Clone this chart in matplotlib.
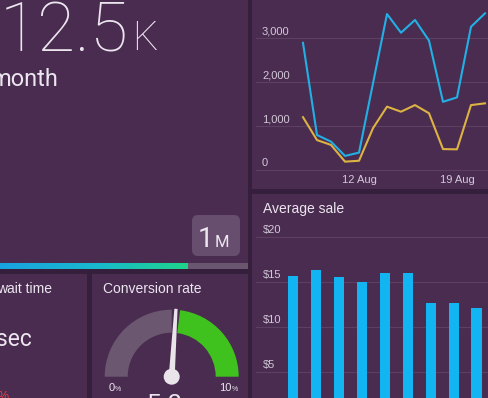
import matplotlib
matplotlib.use("Agg")
import matplotlib.pyplot as plt
import numpy as np
import matplotlib.transforms as mtransforms
from matplotlib.patches import Rectangle, FancyBboxPatch, Wedge, Polygon, Circle
from matplotlib.colors import LinearSegmentedColormap

# ---------------- data ----------------
days = [8, 9, 10, 11, 12, 13, 14, 15, 16, 17, 18, 19, 20, 21]
series_blue = [2890, 795, 645, 320, 395, 1970, 3545, 3120, 3410, 2940, 1550, 1650, 3255, 3560]
series_yellow = [1200, 680, 570, 190, 210, 950, 1440, 1325, 1475, 1290, 475, 470, 1475, 1515]
line_xticks = [12, 19]
line_xtick_labels = ["12 Aug", "19 Aug"]
line_yticks = [0, 1000, 2000, 3000]
line_ytick_labels = ["0", "1,000", "2,000", "3,000"]

bar_values = [15.6, 16.3, 15.5, 15.0, 16.0, 16.0, 12.6, 12.6, 12.1]
bar_yticks = [5, 10, 15, 20]
bar_ytick_labels = ["$5", "$10", "$15", "$20"]
bar_title = "Average sale"

headline_number = "12.5"
headline_unit = "K"
headline_caption = "month"
progress_fraction = 0.758
goal_number = "1"
goal_unit = "M"

wait_title = "wait time"
wait_unit = "sec"
wait_change = "3%"

conv_title = "Conversion rate"
conv_min, conv_max = 0, 10
conv_value = 5.2
conv_band_gray = (0, 5.0)
conv_band_green = (5.4, 10)

# ---------------- style ----------------
W, H = 488, 398
SEP = "#361f3d"
PANEL = "#4a2c51"
GRID = "#5b4061"
TXT = "#ece6ef"
TICK = "#d3c9d8"
BLUE = "#22b0e4"
YELLOW = "#dcb243"
BAR = "#12b5f1"
FONT = "Liberation Sans"

fig = plt.figure(figsize=(W / 100, H / 100), dpi=100)
fig.patch.set_facecolor(SEP)

bg = fig.add_axes([0, 0, 1, 1])
bg.set_zorder(0)
bg.axis("off")

def panel(x0, y0, x1, y1):
    bg.add_patch(Rectangle((x0, y0), x1 - x0, y1 - y0, facecolor=PANEL, edgecolor="none", zorder=1))

panel(0, 0, 248, 269)
panel(252, 0, 488, 189)
panel(252, 194, 488, 398)
panel(0, 274, 87, 398)
panel(92, 274, 248, 398)

# headline texts
bg.text(129, 51.7, headline_number, fontsize=50, color=TXT, family="Roboto", weight="light",
        ha="right", va="baseline", zorder=3)
bg.text(132, 50.5, headline_unit, fontsize=29, color=TXT, family="Roboto", weight="light",
        ha="left", va="baseline", zorder=3)
bg.text(58.5, 86, headline_caption, fontsize=17, color=TXT, family="Roboto",
        ha="right", va="baseline", zorder=3)

# goal badge
bg.add_patch(FancyBboxPatch((192, 215), 48, 41, boxstyle="round,pad=0,rounding_size=6",
                            facecolor="#684e6e", edgecolor="none", zorder=2))
bg.text(213, 247.3, goal_number, fontsize=20, color=TXT, family="Roboto",
        ha="right", va="baseline", zorder=3)
bg.text(215, 247.3, goal_unit, fontsize=12, color=TXT, family="Roboto",
        ha="left", va="baseline", zorder=3)

# progress bar
bar_x0, bar_x1, bar_y0, bar_y1 = 0, 248, 263, 269
bg.add_patch(Rectangle((bar_x0, bar_y0), bar_x1 - bar_x0, bar_y1 - bar_y0,
                       facecolor="#6a566f", edgecolor="none", zorder=2))
fill_end = bar_x0 + progress_fraction * (bar_x1 - bar_x0)
cmap = LinearSegmentedColormap.from_list("prog", ["#1aa3df", "#18b8d0", "#1fd58a"])
grad = np.linspace(0, 1, 256).reshape(1, -1)
bg.imshow(grad, extent=[bar_x0, fill_end, bar_y1, bar_y0], aspect="auto", cmap=cmap,
          origin="upper", zorder=3, interpolation="bilinear")

# wait time panel
bg.text(52, 293, wait_title, fontsize=10, color=TXT, family=FONT, ha="right", va="baseline", zorder=3)
bg.text(31.5, 345.5, wait_unit, fontsize=16.5, color=TXT, family="Roboto", ha="right", va="baseline", zorder=3)
bg.text(10, 391, wait_change, fontsize=9, color="#e8403e", family=FONT, ha="right", va="top", zorder=3)

# conversion gauge
bg.text(103, 293, conv_title, fontsize=10, color=TXT, family=FONT, ha="left", va="baseline", zorder=3)
cx, cy, r_out, r_in = 171.7, 376.7, 67, 44

def ang(v):
    # data angle (y axis inverted) for a value on the gauge
    return 180 + (v - conv_min) / (conv_max - conv_min) * 180

bg.add_patch(Wedge((cx, cy), r_out, ang(conv_band_gray[0]), ang(conv_band_gray[1]),
                   width=r_out - r_in, facecolor="#6b5870", edgecolor="none", zorder=2))
bg.add_patch(Wedge((cx, cy), r_out, ang(conv_band_green[0]), ang(conv_band_green[1]),
                   width=r_out - r_in, facecolor="#3fc21d", edgecolor="none", zorder=2))
a = np.deg2rad(ang(conv_value))
d = np.array([np.cos(a), np.sin(a)])
nrm = np.array([-d[1], d[0]])
L = 68
c = np.array([cx, cy])
needle = [c + nrm * 3, c + d * L + nrm * 1.6, c + d * L - nrm * 1.6, c - nrm * 3]
bg.add_patch(Polygon(needle, closed=True, facecolor="#e8e4ea", edgecolor="none", zorder=4))
bg.add_patch(Circle((cx, cy), 8, facecolor="#e8e4ea", edgecolor="none", zorder=4))
bg.text(114.5, 391, "0", fontsize=8, color=TXT, family=FONT, ha="right", va="baseline", zorder=3)
bg.text(114.8, 391, "%", fontsize=5, color=TXT, family=FONT, ha="left", va="baseline", zorder=3)
bg.text(231.5, 391, "10", fontsize=8, color=TXT, family=FONT, ha="right", va="baseline", zorder=3)
bg.text(231.8, 391, "%", fontsize=5, color=TXT, family=FONT, ha="left", va="baseline", zorder=3)
bg.text(164, 393, f"{conv_value:.1f}", fontsize=18, color=TXT, family=FONT, ha="center", va="top", zorder=3)

bg.set_xlim(0, W)
bg.set_ylim(H, 0)

# ---------------- line chart ----------------
px_day = 14.0
lx0, lx1 = 256, 488
ly_top, ly_bot = 0, 172
zero_px, px_per_k = 170, 44.0
ax1 = fig.add_axes([lx0 / W, 1 - ly_bot / H, (lx1 - lx0) / W, (ly_bot - ly_top) / H])
ax1.set_zorder(2)
ax1.patch.set_alpha(0)
ax1.set_xlim(12 - (359 - lx0) / px_day, 12 + (lx1 - 359) / px_day)
ax1.set_ylim(-(ly_bot - zero_px) / px_per_k * 1000, (zero_px - ly_top) / px_per_k * 1000)
for s in ax1.spines.values():
    s.set_visible(False)
ax1.set_yticks(line_yticks)
ax1.yaxis.grid(True, color=GRID, linewidth=0.8)
ax1.tick_params(axis="y", length=0, labelleft=False)
ax1.set_xticks(line_xticks)
ax1.set_xticklabels(line_xtick_labels, fontsize=8, color=TICK, family=FONT)
ax1.tick_params(axis="x", length=0, pad=2.5)
ax1.plot(days, series_blue, color=BLUE, linewidth=1.5, zorder=3)
ax1.plot(days, series_yellow, color=YELLOW, linewidth=1.5, zorder=3)
off = mtransforms.ScaledTranslation(6 / 100, 4 / 100, fig.dpi_scale_trans)
for v, lab in zip(line_yticks, line_ytick_labels):
    ax1.text(0, v, lab, transform=ax1.get_yaxis_transform() + off, fontsize=8, color=TICK,
             family=FONT, ha="left", va="baseline")

# ---------------- bar chart ----------------
bx0, bx1 = 256, 488
by_top, by_zero = 215, 417
px_per_dollar = 9.02
bar_c0, bar_step = 293.3, 22.9
ax2 = fig.add_axes([bx0 / W, 1 - by_zero / H, (bx1 - bx0) / W, (by_zero - by_top) / H])
ax2.set_zorder(2)
ax2.patch.set_alpha(0)
ax2.set_xlim(-(bar_c0 - bx0) / bar_step, (bx1 - bar_c0) / bar_step)
ax2.set_ylim(0, (by_zero - by_top) / px_per_dollar)
for s in ax2.spines.values():
    s.set_visible(False)
ax2.set_yticks(bar_yticks)
ax2.yaxis.grid(True, color=GRID, linewidth=0.8)
ax2.set_axisbelow(True)
ax2.tick_params(axis="both", length=0, labelleft=False, labelbottom=False)
ax2.bar(range(len(bar_values)), bar_values, width=0.44, color=BAR, zorder=3)
off2 = mtransforms.ScaledTranslation(7 / 100, 4 / 100, fig.dpi_scale_trans)
for v, lab in zip(bar_yticks, bar_ytick_labels):
    ax2.text(0, v, lab, transform=ax2.get_yaxis_transform() + off2, fontsize=8, color=TICK,
             family=FONT, ha="left", va="baseline")
bg.text(263, 213, bar_title, fontsize=10, color=TXT, family=FONT, ha="left", va="baseline", zorder=3)

fig.savefig("out.png", dpi=100, facecolor=fig.get_facecolor())
